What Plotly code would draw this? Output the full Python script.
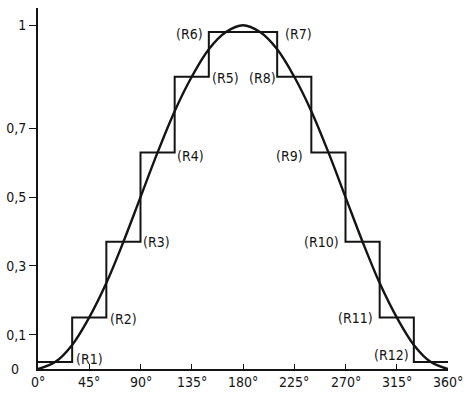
import plotly.graph_objects as go

# smooth curve, every 15 degrees
curve_deg = [0, 15, 30, 45, 60, 75, 90, 105, 120, 135, 150, 165, 180,
             195, 210, 225, 240, 255, 270, 285, 300, 315, 330, 345, 360]
curve_val = [0, 0.02, 0.07, 0.15, 0.25, 0.37, 0.5, 0.63, 0.75, 0.85, 0.93, 0.98, 1.0,
             0.98, 0.93, 0.85, 0.75, 0.63, 0.5, 0.37, 0.25, 0.15, 0.07, 0.02, 0]

# staircase: region edges and level of each region R1..R12
step_edges = [0, 30, 60, 90, 120, 150, 180, 210, 240, 270, 300, 330, 360]
step_levels = [0.02, 0.15, 0.37, 0.63, 0.85, 0.98, 0.98, 0.85, 0.63, 0.37, 0.15, 0.02]

region_names = ["(R1)", "(R2)", "(R3)", "(R4)", "(R5)", "(R6)",
                "(R7)", "(R8)", "(R9)", "(R10)", "(R11)", "(R12)"]
label_x = [45, 75, 104, 134, 165, 133, 229, 197, 221, 249, 279, 310]
label_y = [0.03, 0.145, 0.37, 0.62, 0.845, 0.975, 0.975, 0.845, 0.62, 0.37, 0.148, 0.04]

x_ticks = [0, 45, 90, 135, 180, 225, 270, 315, 360]
x_labels = [f"{d}°" for d in x_ticks]
y_ticks = [0.1, 0.3, 0.5, 0.7, 1]
y_labels = ["0,1", "0,3", "0,5", "0,7", "1"]

ink = "#141414"
font = dict(family="DejaVu Sans Condensed, sans-serif", size=14, color=ink)

fig = go.Figure()
fig.add_trace(go.Scatter(x=step_edges, y=step_levels + [step_levels[-1]], mode="lines",
                         line=dict(color=ink, width=2, shape="hv"), hoverinfo="skip"))
fig.add_trace(go.Scatter(x=curve_deg, y=curve_val, mode="lines",
                         line=dict(color=ink, width=2.4, shape="spline"), hoverinfo="skip"))

for name, lx, ly in zip(region_names, label_x, label_y):
    fig.add_annotation(x=lx, y=ly, text=name, showarrow=False, font=font,
                       xanchor="center", yanchor="middle")

# x tick labels as annotations so they sit tight under the axis
for tv, tl in zip(x_ticks, x_labels):
    fig.add_annotation(x=tv, y=0, text=tl, showarrow=False, font=font,
                       xanchor="center", yanchor="top", yshift=-3)

fig.add_annotation(x=0, y=0, text="0", showarrow=False, font=font,
                   xanchor="right", yanchor="middle", xshift=-17)

fig.update_layout(
    width=470, height=394,
    margin=dict(l=38, r=22, t=8, b=25),
    paper_bgcolor="white", plot_bgcolor="white",
    showlegend=False, font=font,
)
fig.update_xaxes(range=[0, 360], tickvals=x_ticks, showticklabels=False, automargin=False,
                 showline=True, linecolor=ink, linewidth=2, showgrid=False, zeroline=False,
                 ticks="inside", ticklen=5, tickcolor=ink, tickwidth=1.2)
fig.update_yaxes(range=[0, 1.05], tickvals=y_ticks, ticktext=y_labels, automargin=False,
                 showline=True, linecolor=ink, linewidth=2, showgrid=False, zeroline=False,
                 ticks="outside", ticklen=7, tickcolor=ink, tickwidth=1.2)

# drop the browser's default 8px body margin so the figure fills the window
fig.write_html("out.html", config={"displayModeBar": False},
               post_script="document.body.style.margin='0';")
